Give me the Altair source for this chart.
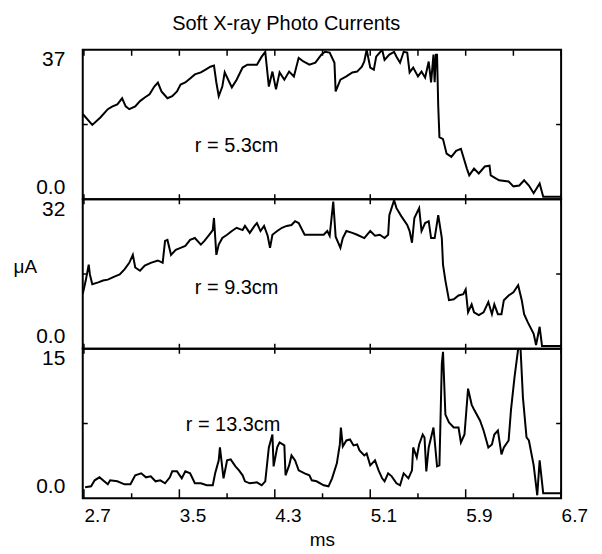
import altair as alt
import pandas as pd

# ---------------- data ----------------
t1 = [2.69, 2.77, 2.84, 2.90, 2.94, 2.98, 3.02, 3.05, 3.08, 3.13, 3.17, 3.21, 3.25, 3.29, 3.32,
      3.35, 3.40, 3.44, 3.48, 3.51, 3.55, 3.59, 3.63, 3.68, 3.72, 3.76, 3.79, 3.81, 3.83, 3.86,
      3.88, 3.92, 3.94, 3.98, 4.03, 4.07, 4.15, 4.19, 4.22, 4.25, 4.28, 4.31, 4.34, 4.38, 4.42,
      4.46, 4.50, 4.54, 4.59, 4.64, 4.69, 4.72, 4.76, 4.80, 4.81, 4.85, 4.90, 4.95, 4.99, 5.03,
      5.05, 5.07, 5.10, 5.13, 5.15, 5.20, 5.22, 5.26, 5.30, 5.32, 5.35, 5.38, 5.41, 5.43, 5.46,
      5.50, 5.53, 5.56, 5.59, 5.61, 5.63, 5.64, 5.65, 5.66, 5.67, 5.68, 5.71, 5.74, 5.78, 5.82,
      5.86, 5.91, 5.93, 5.97, 6.01, 6.06, 6.10, 6.11, 6.18, 6.26, 6.30, 6.35, 6.39, 6.43, 6.47,
      6.52, 6.55, 6.70]
v1 = [21.1, 18.4, 20.3, 22.3, 23.0, 23.5, 25.0, 23.0, 22.3, 23.0, 24.3, 25.2, 26.0, 27.9, 28.9,
      26.7, 25.0, 25.5, 26.7, 28.4, 28.9, 29.9, 30.9, 31.4, 32.1, 32.8, 33.1, 28.9, 25.5, 27.9,
      31.4, 28.9, 27.7, 29.6, 32.6, 33.3, 33.3, 35.3, 36.5, 27.9, 31.6, 27.2, 31.4, 29.6, 31.6,
      30.4, 35.0, 34.1, 33.3, 33.8, 35.8, 36.5, 36.3, 33.8, 26.7, 29.6, 30.4, 31.4, 31.6, 32.8,
      34.1, 37.0, 32.6, 32.1, 35.3, 37.0, 34.5, 35.8, 36.5, 35.3, 33.8, 36.5, 36.3, 31.4, 32.6,
      30.4, 31.6, 30.1, 34.1, 28.9, 35.8, 29.0, 35.8, 35.8, 23.0, 15.4, 14.9, 11.3, 10.5, 12.0,
      12.5, 7.6, 5.9, 7.6, 6.4, 8.1, 8.3, 5.9, 4.7, 4.4, 3.2, 3.4, 4.7, 3.4, 1.5,
      3.9, 0.6, 0.6]

t2 = [2.69, 2.715, 2.74, 2.75, 2.77, 2.82, 2.86, 2.90, 2.96, 3.00, 3.04, 3.08, 3.11, 3.13, 3.17,
      3.21, 3.26, 3.32, 3.36, 3.38, 3.40, 3.43, 3.47, 3.51, 3.55, 3.59, 3.63, 3.68, 3.71, 3.75,
      3.78, 3.79, 3.81, 3.83, 3.86, 3.90, 3.94, 3.98, 4.03, 4.05, 4.09, 4.13, 4.15, 4.18, 4.21,
      4.24, 4.26, 4.28, 4.32, 4.36, 4.40, 4.44, 4.47, 4.50, 4.55, 4.63, 4.71, 4.74, 4.76, 4.79,
      4.81, 4.85, 4.87, 4.90, 4.95, 4.99, 5.05, 5.10, 5.14, 5.18, 5.22, 5.25, 5.26, 5.30, 5.32,
      5.36, 5.41, 5.43, 5.45, 5.47, 5.51, 5.53, 5.56, 5.59, 5.61, 5.64, 5.67, 5.70, 5.71, 5.73,
      5.76, 5.80, 5.84, 5.88, 5.90, 5.92, 5.95, 5.97, 6.01, 6.05, 6.09, 6.12, 6.14, 6.17, 6.20,
      6.22, 6.26, 6.30, 6.34, 6.37, 6.39, 6.42, 6.47, 6.49, 6.52, 6.54, 6.70]
v2 = [11.7, 14.6, 18.0, 15.9, 13.8, 14.2, 14.6, 14.8, 15.5, 15.9, 17.0, 18.4, 20.1, 17.4, 16.7,
      17.8, 18.4, 18.9, 18.4, 23.1, 23.3, 20.1, 21.2, 21.6, 22.0, 23.3, 23.7, 22.3, 23.1, 24.4,
      25.4, 28.0, 20.1, 22.3, 23.7, 24.4, 25.2, 25.9, 25.4, 26.3, 24.8, 26.3, 26.9, 25.2, 26.3,
      24.2, 21.6, 24.4, 25.2, 25.9, 26.3, 26.5, 27.3, 26.9, 24.4, 24.4, 24.4, 25.2, 24.2, 31.5,
      24.0, 21.6, 23.7, 25.2, 24.8, 24.4, 23.7, 25.2, 24.2, 24.4, 23.7, 24.4, 28.6, 31.8, 30.1,
      28.4, 26.5, 25.2, 22.7, 28.0, 30.1, 25.2, 26.9, 27.3, 23.7, 23.7, 28.6, 23.7, 18.0, 14.6,
      10.4, 10.6, 11.4, 11.7, 12.7, 7.8, 9.5, 7.8, 7.2, 7.8, 10.0, 7.4, 9.5, 7.4, 7.4,
      10.4, 11.4, 12.1, 13.6, 10.4, 7.4, 5.7, 3.2, 0.8, 4.7, 0.6, 0.6]

t3 = [2.71, 2.76, 2.79, 2.83, 2.87, 2.90, 2.92, 2.98, 3.04, 3.09, 3.13, 3.18, 3.22, 3.26, 3.30,
      3.34, 3.38, 3.42, 3.44, 3.48, 3.52, 3.55, 3.59, 3.63, 3.68, 3.73, 3.78, 3.80, 3.83, 3.84,
      3.87, 3.90, 3.93, 3.97, 4.00, 4.03, 4.05, 4.09, 4.15, 4.19, 4.22, 4.25, 4.28, 4.29, 4.32,
      4.34, 4.38, 4.39, 4.42, 4.44, 4.47, 4.50, 4.55, 4.59, 4.61, 4.65, 4.71, 4.75, 4.78, 4.82,
      4.845, 4.854, 4.87, 4.90, 4.93, 4.96, 4.99, 5.01, 5.05, 5.07, 5.10, 5.14, 5.17, 5.20, 5.22,
      5.25, 5.28, 5.32, 5.35, 5.38, 5.42, 5.45, 5.46, 5.49, 5.51, 5.54, 5.555, 5.57, 5.59, 5.61,
      5.63, 5.66, 5.68, 5.70, 5.71, 5.73, 5.76, 5.80, 5.84, 5.86, 5.89, 5.92, 5.95, 5.97, 6.02,
      6.05, 6.09, 6.12, 6.14, 6.17, 6.20, 6.22, 6.26, 6.28, 6.31, 6.34, 6.36, 6.38, 6.41, 6.43,
      6.47, 6.50, 6.52, 6.55, 6.70]
v3 = [1.1, 1.2, 1.8, 2.1, 1.7, 1.4, 1.8, 1.7, 1.4, 1.4, 2.3, 2.5, 2.1, 2.2, 1.7,
      1.8, 1.5, 2.1, 2.7, 2.7, 2.0, 2.7, 2.5, 1.5, 1.5, 1.3, 1.3, 2.5, 3.8, 5.1,
      2.0, 3.8, 3.9, 3.2, 2.8, 2.3, 1.7, 1.5, 1.6, 1.3, 1.7, 5.1, 6.4, 3.2, 5.1,
      5.6, 5.3, 2.3, 3.3, 4.3, 3.8, 2.8, 2.5, 2.3, 1.8, 1.7, 1.3, 1.2, 2.0, 3.5,
      5.4, 7.1, 5.2, 5.8, 5.9, 5.3, 5.4, 4.8, 4.3, 4.5, 3.3, 3.8, 2.8, 2.0, 1.7,
      2.5, 2.2, 1.5, 1.3, 2.5, 2.0, 2.8, 5.1, 4.1, 5.4, 6.4, 6.1, 2.7, 5.1, 6.1,
      7.1, 3.2, 3.3, 13.5, 14.7, 8.4, 7.6, 7.1, 7.1, 5.6, 6.4, 11.0, 9.4, 8.9, 7.8,
      6.8, 5.1, 5.4, 6.4, 6.8, 4.4, 5.1, 5.8, 8.9, 12.2, 15.0, 15.0, 10.1, 6.1, 5.8,
      3.3, 0.3, 3.8, 0.5, 0.5]

series_t = [t1, t2, t3]
series_v = [v1, v2, v3]
labels = ["r = 5.3cm", "r = 9.3cm", "r = 13.3cm"]
label_t = [3.98, 3.98, 3.95]
label_v = [13.2, 13.1, 7.3]
y_max = [37, 32, 15]
y_mid = [18.5, 16, 7.5]
x_major = [2.7, 3.5, 4.3, 5.1, 5.9, 6.7]
x_minor = [3.1, 3.9, 4.7, 5.5, 6.3]
x_domain = [2.69, 6.70]

FONT = "Liberation Sans"
W, H = 480, 150


def panel(k):
    t, v, ym = series_t[k], series_v[k], y_max[k]
    df = pd.DataFrame({"t": t, "v": v, "i": list(range(len(t)))})
    xscale = alt.Scale(domain=x_domain, nice=False, zero=False)
    yscale = alt.Scale(domain=[0, ym], nice=False, zero=True)

    if k == 2:
        xaxis = alt.Axis(values=x_major, format=".1f", labelAlign="left", labelFontSize=19,
                         labelFont=FONT, labelColor="black", labelPadding=8, ticks=False,
                         tickSize=0, domain=False, grid=False, title="ms", titleFont=FONT,
                         titleFontSize=19, titleFontWeight="normal", titleColor="black",
                         titlePadding=5)
    else:
        xaxis = None

    yaxis_kw = dict(values=[0, ym], grid=False, ticks=False, tickSize=0, domain=False,
                    labelExpr="datum.value == 0 ? '0.0' : format(datum.value, 'd')",
                    labelFontSize=21, labelFont=FONT, labelColor="black", labelPadding=18,
                    labelBaseline="middle", labelFlush=False,
                    labelOffset={"condition": {"test": "datum.value == 0", "value": -12},
                                 "value": 10})
    if k == 1:
        yaxis = alt.Axis(title="μA", titleAngle=0, titleX=-70, titleY=67, titleAlign="left",
                         titleBaseline="middle", titleFont=FONT, titleFontSize=19,
                         titleFontWeight="normal", titleColor="black", **yaxis_kw)
    else:
        yaxis = alt.Axis(title=None, **yaxis_kw)

    line = alt.Chart(df).mark_line(color="black", strokeWidth=2, clip=True).encode(
        x=alt.X("t:Q", scale=xscale, axis=xaxis),
        y=alt.Y("v:Q", scale=yscale, axis=yaxis),
        order="i:Q",
    )

    txt = alt.Chart(pd.DataFrame({"t": [label_t[k]], "v": [label_v[k]], "s": [labels[k]]})).mark_text(
        font=FONT, fontSize=20, color="black", align="center", baseline="middle"
    ).encode(x=alt.X("t:Q", scale=xscale), y=alt.Y("v:Q", scale=yscale), text="s:N")

    mid = pd.DataFrame({"v": [y_mid[k]]})
    ytick_l = alt.Chart(mid).mark_rule(color="black", strokeWidth=1.5).encode(
        y=alt.Y("v:Q", scale=yscale), x=alt.value(0), x2=alt.value(5))
    ytick_r = alt.Chart(mid).mark_rule(color="black", strokeWidth=1.5).encode(
        y=alt.Y("v:Q", scale=yscale), x=alt.value(W - 5), x2=alt.value(W))

    major = pd.DataFrame({"t": x_major})
    allt = pd.DataFrame({"t": sorted(x_major + x_minor)})
    minor = pd.DataFrame({"t": x_minor})
    layers = [line, txt, ytick_l, ytick_r]

    if k == 0:
        layers.append(alt.Chart(allt).mark_rule(color="black", strokeWidth=1.5).encode(
            x=alt.X("t:Q", scale=xscale), y=alt.value(0), y2=alt.value(6)))
    else:
        layers.append(alt.Chart(major).mark_rule(color="black", strokeWidth=1.5).encode(
            x=alt.X("t:Q", scale=xscale), y=alt.value(0), y2=alt.value(5)))
    if k < 2:
        layers.append(alt.Chart(major).mark_rule(color="black", strokeWidth=1.5).encode(
            x=alt.X("t:Q", scale=xscale), y=alt.value(H - 5), y2=alt.value(H)))
    else:
        layers.append(alt.Chart(major).mark_rule(color="black", strokeWidth=1.5).encode(
            x=alt.X("t:Q", scale=xscale), y=alt.value(H - 9), y2=alt.value(H)))
        layers.append(alt.Chart(minor).mark_rule(color="black", strokeWidth=1.5).encode(
            x=alt.X("t:Q", scale=xscale), y=alt.value(H - 5), y2=alt.value(H)))

    return alt.layer(*layers).properties(width=W, height=H)


chart = alt.vconcat(panel(0), panel(1), panel(2), spacing=0, bounds="flush").properties(
    title=alt.TitleParams("Soft X-ray Photo Currents", font=FONT, fontSize=20,
                          fontWeight="normal", color="black", offset=14, anchor="middle",
                          dx=-14),
    padding={"left": 4, "right": 5, "top": 5, "bottom": 0},
    background="white",
).configure_view(stroke="black", strokeWidth=2)

chart.save("out.html", embed_options={"renderer": "svg", "actions": False})
